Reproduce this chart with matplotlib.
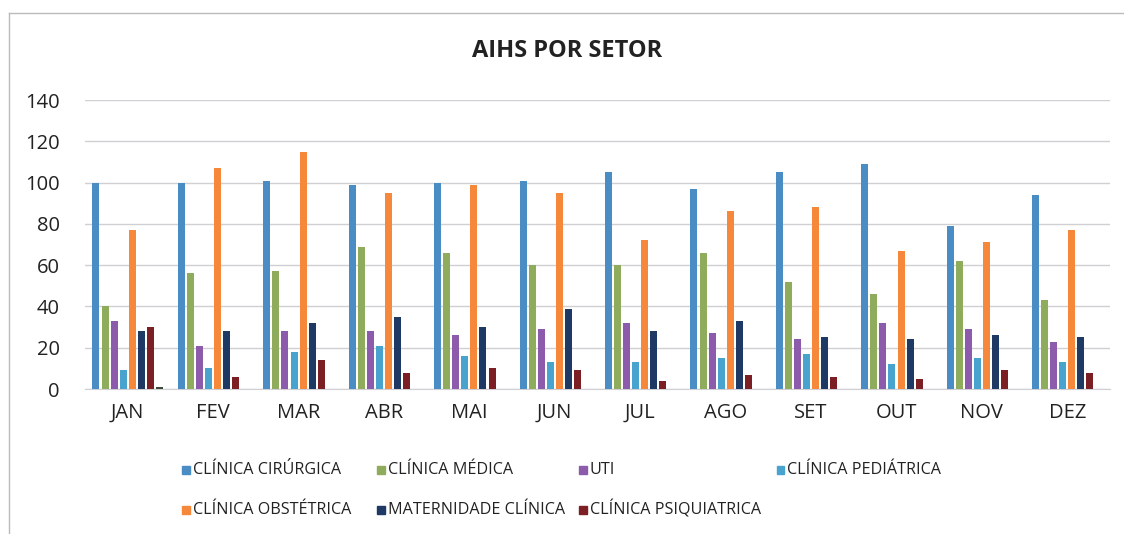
import numpy as np
import matplotlib.pyplot as plt
from matplotlib.lines import Line2D

plt.rcParams['font.family'] = ['Open Sans', 'DejaVu Sans']

meses = ['JAN', 'FEV', 'MAR', 'ABR', 'MAI', 'JUN', 'JUL', 'AGO', 'SET', 'OUT', 'NOV', 'DEZ']

clinica_cirurgica = [100, 100, 101, 99, 100, 101, 105, 97, 105, 109, 79, 94]
clinica_medica = [40, 56, 57, 69, 66, 60, 60, 66, 52, 46, 62, 43]
uti = [33, 21, 28, 28, 26, 29, 32, 27, 24, 32, 29, 23]
clinica_pediatrica = [9, 10, 18, 21, 16, 13, 13, 15, 17, 12, 15, 13]
clinica_obstetrica = [77, 107, 115, 95, 99, 95, 72, 86, 88, 67, 71, 77]
maternidade_clinica = [28, 28, 32, 35, 30, 39, 28, 33, 25, 24, 26, 25]
clinica_psiquiatrica = [30, 6, 14, 8, 10, 9, 4, 7, 6, 5, 9, 8]
outros = [1, 0, 0, 0, 0, 0, 0, 0, 0, 0, 0, 0]  # serie sem legenda

series = [
    ('CLÍNICA CIRÚRGICA', clinica_cirurgica, '#4a8cc4'),
    ('CLÍNICA MÉDICA', clinica_medica, '#8fac5c'),
    ('UTI', uti, '#8c5bab'),
    ('CLÍNICA PEDIÁTRICA', clinica_pediatrica, '#49a3cf'),
    ('CLÍNICA OBSTÉTRICA', clinica_obstetrica, '#f5883a'),
    ('MATERNIDADE CLÍNICA', maternidade_clinica, '#1e3a64'),
    ('CLÍNICA PSIQUIATRICA', clinica_psiquiatrica, '#7b1f24'),
    ('', outros, '#3c4a3a'),
]

fig = plt.figure(figsize=(11.24, 5.34), dpi=100)
ax = fig.add_axes([0.0756, 0.2715, 0.912, 0.5412])

x = np.arange(len(meses))
step = 0.106
width = 0.082
n = len(series)
for i, (nome, vals, cor) in enumerate(series):
    ax.bar(x + (i - (n - 1) / 2) * step, vals, width, color=cor, zorder=3)

ax.set_xlim(-0.5, 11.5)
ax.set_ylim(0, 140)
ax.set_yticks(range(0, 141, 20))
ax.yaxis.grid(True, color='#cfcfd4', linewidth=1, zorder=0)
for s in ['top', 'right', 'left']:
    ax.spines[s].set_visible(False)
ax.spines['bottom'].set_color('#cfcfd4')
ax.tick_params(length=0, labelsize=14.5, colors='#222222')
ax.tick_params(axis='y', pad=18)
ax.tick_params(axis='x', pad=10)
ax.set_xticks(x)
ax.set_xticklabels(meses)

fig.text(0.505, 0.905, 'AIHS POR SETOR', ha='center', va='center',
         fontsize=17, fontweight='bold', color='#222222')

# legenda em duas linhas
leg_pos = [(0.162, 0.120), (0.3355, 0.120), (0.515, 0.120), (0.691, 0.120),
           (0.162, 0.045), (0.3355, 0.045), (0.515, 0.045)]
for (nome, vals, cor), (lx, ly) in zip(series[:7], leg_pos):
    fig.patches.append(plt.Rectangle((lx, ly - 0.008), 0.0068, 0.016, color=cor,
                                     transform=fig.transFigure, figure=fig))
    fig.text(lx + 0.0095, ly, nome, ha='left', va='center', fontsize=11.6, color='#222222')

# moldura
fig.add_artist(Line2D([0.008, 0.008], [0.0, 0.975], color='#bbbbbb', lw=1))
fig.add_artist(Line2D([0.008, 1.0], [0.975, 0.975], color='#bbbbbb', lw=1))

fig.savefig('out.png', dpi=100, facecolor='white')
